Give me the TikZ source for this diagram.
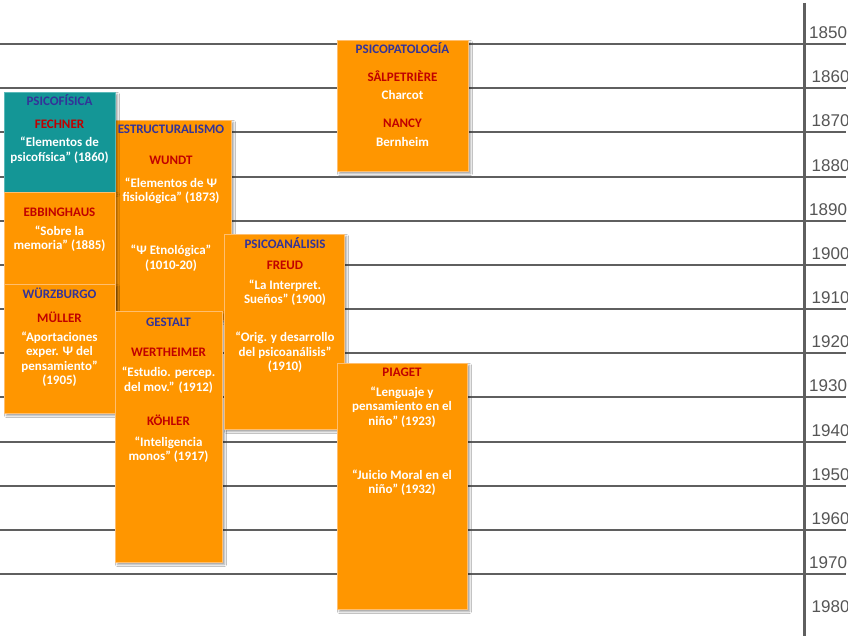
\documentclass[tikz,border=0pt]{standalone}
\usepackage{fontspec}
\setmainfont{Carlito}
\newfontfamily\yearfont{Liberation Sans}
\usetikzlibrary{shadows.blur}
\definecolor{boxorange}{RGB}{255,150,0}
\definecolor{boxedge}{RGB}{255,190,110}
\definecolor{boxteal}{RGB}{20,150,150}
\definecolor{tealedge}{RGB}{90,185,185}
\definecolor{ttlblue}{RGB}{51,51,153}
\definecolor{nmred}{RGB}{192,0,0}
\definecolor{axisgray}{RGB}{95,95,95}
\definecolor{yeargray}{RGB}{85,85,85}
\begin{document}
\begin{tikzpicture}[x=1pt,y=-1pt,
  panel/.style={fill=boxorange, draw=boxedge, line width=0.6pt, anchor=north west,
    inner sep=0pt, outer sep=0pt,
    blur shadow={shadow xshift=2.5pt, shadow yshift=-2.5pt, shadow blur radius=2pt, shadow opacity=40}},
  tealpanel/.style={panel, fill=boxteal, draw=tealedge},
  txt/.style={font=\bfseries\fontsize{13}{14.5}\selectfont, inner sep=0pt, align=center},
  ttl/.style={txt, text=ttlblue},
  nm/.style={txt, text=nmred},
  bd/.style={txt, text=white},
  yrline/.style={draw=axisgray, line width=2pt},
  yrlabel/.style={font=\yearfont\fontsize{17}{17}\selectfont, text=yeargray, anchor=base west, inner sep=0pt}
]
\useasboundingbox (0,0) rectangle (848,636);
\fill[white] (0,0) rectangle (848,636);

% year lines and labels
\foreach \k/\yr/\xx in {0/1850/809,1/1860/811.5,2/1870/811.5,3/1880/811.5,4/1890/809,5/1900/811.5,6/1910/811.5,7/1920/811.5,8/1930/809,9/1940/811.5,10/1950/811.5,11/1960/811.5,12/1970/809}{
  \pgfmathsetmacro{\yy}{44+44.17*\k}
  \coordinate (l\k) at (0,\yy);
  \coordinate (r\k) at (846,\yy);
  \draw[yrline] (l\k) -- (r\k);
  \node[yrlabel] (y\yr) at (\xx,\yy-5.5) {\yr};
}
\node[yrlabel] (y1980) at (811.5,612.7) {1980};
\coordinate (axtop) at (804,3);
\coordinate (axbot) at (804,636);
\draw[draw=axisgray, line width=3pt] (axtop) -- (axbot);

% boxes
\node[panel, minimum width=116pt, minimum height=200pt] (est) at (115,120) {};
\node[tealpanel, minimum width=111pt, minimum height=100pt] (psf) at (4,92) {};
\node[panel, minimum width=111pt, minimum height=116pt] (ebb) at (4,192) {};
\node[panel, minimum width=111pt, minimum height=129pt] (wur) at (4,284) {};
\node[panel, minimum width=107pt, minimum height=251pt] (ges) at (115,311) {};
\node[panel, minimum width=120pt, minimum height=195pt] (psa) at (224,234) {};
\node[panel, minimum width=130pt, minimum height=246pt] (pia) at (337,363) {};
\node[panel, minimum width=131pt, minimum height=131pt] (pat) at (337,40) {};

% PSICOFISICA
\node[ttl] (t1) at (59.5,100) {PSICOFÍSICA};
\node[nm]  (n1) at (59.5,124) {FECHNER};
\node[bd]  (b1) at (59.5,150) {“Elementos de\\psicofísica” (1860)};
% EBBINGHAUS
\node[nm]  (n2) at (59.5,212) {EBBINGHAUS};
\node[bd]  (b2) at (59.5,238.5) {“Sobre la\\memoria” (1885)};
% WURZBURGO
\node[ttl] (t3) at (59.5,293) {WÜRZBURGO};
\node[nm]  (n3) at (59.5,317) {MÜLLER};
\node[bd]  (b3) at (59.5,359) {“Aportaciones\\exper. Ψ del\\pensamiento”\\(1905)};
% ESTRUCTURALISMO
\node[ttl] (t4) at (171,129) {ESTRUCTURALISMO};
\node[nm]  (n4) at (171,160) {WUNDT};
\node[bd]  (b4) at (171,191) {“Elementos de Ψ\\fisiológica” (1873)};
\node[bd]  (b4b) at (171,258) {“Ψ Etnológica”\\(1010-20)};
% PSICOANALISIS
\node[ttl] (t5) at (285,243) {PSICOANÁLISIS};
\node[nm]  (n5) at (285,265) {FREUD};
\node[bd]  (b5) at (285,292.5) {“La Interpret.\\Sueños” (1900)};
\node[bd]  (b5b) at (285,352.5) {“Orig. y desarrollo\\del psicoanálisis”\\(1910)};
% GESTALT
\node[ttl] (t6) at (168.5,322) {GESTALT};
\node[nm]  (n6) at (168.5,352) {WERTHEIMER};
\node[bd]  (b6) at (168.5,380) {“Estudio. percep.\\del mov.” (1912)};
\node[nm]  (n6b) at (168.5,420) {KÖHLER};
\node[bd]  (b6b) at (168.5,449.5) {“Inteligencia\\monos” (1917)};
% PSICOPATOLOGIA
\node[ttl] (t7) at (402.5,48) {PSICOPATOLOGÍA};
\node[nm]  (n7) at (402.5,76) {SÂLPETRIÈRE};
\node[bd]  (b7) at (402.5,95) {Charcot};
\node[nm]  (n7b) at (402.5,123) {NANCY};
\node[bd]  (b7b) at (402.5,142) {Bernheim};
% PIAGET
\node[nm]  (n8) at (402,372) {PIAGET};
\node[bd]  (b8) at (402,407) {“Lenguaje y\\pensamiento en el\\niño” (1923)};
\node[bd]  (b8b) at (402,482.5) {“Juicio Moral en el\\niño” (1932)};
\end{tikzpicture}
\end{document}
